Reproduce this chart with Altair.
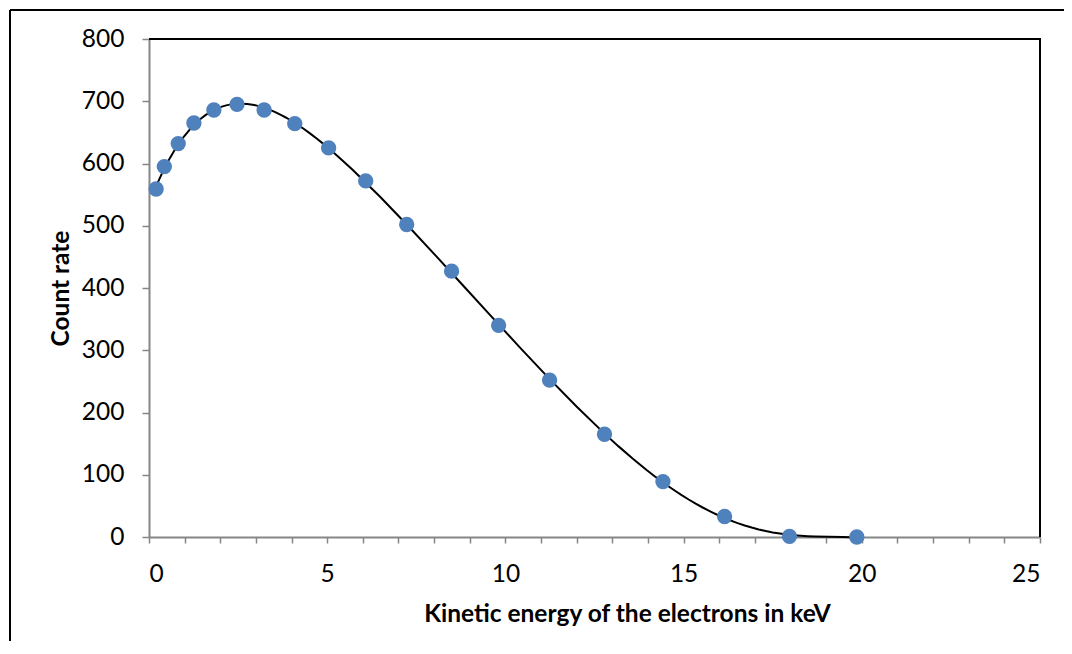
import altair as alt
import pandas as pd

energy = [0.20, 0.43, 0.82, 1.26, 1.82, 2.47, 3.23, 4.09, 5.04, 6.08, 7.23,
          8.49, 9.81, 11.24, 12.78, 14.42, 16.15, 17.97, 19.86]
count = [559, 595, 632, 665, 686, 695, 686, 664, 625, 572, 502,
         427, 340, 252, 165, 89, 33, 1, 0]
x_ticks = list(range(0, 26))
y_ticks = list(range(0, 801, 100))

df = pd.DataFrame({"energy": energy, "count": count})

FONT = "Lato"
FS = 24.5
W, H = 891, 498

xscale = alt.Scale(domain=[0, 25], nice=False, zero=False)
yscale = alt.Scale(domain=[0, 800], nice=False)

xaxis = alt.Axis(
    values=x_ticks,
    labelExpr="datum.value % 5 == 0 ? datum.label : ''",
    labelOverlap=False,
    grid=False, tickSize=6, tickColor="#868686", tickWidth=1.5,
    domainColor="#868686", domainWidth=2,
    labelFont=FONT, labelFontSize=FS, labelColor="black", labelPadding=19,
    title="Kinetic energy of the electrons in keV",
    titleFont=FONT, titleFontSize=FS, titleFontWeight="bold", titleColor="black",
    titleX=478, titleY=84, titleBaseline="alphabetic", titleAlign="center",
)
yaxis = alt.Axis(
    values=y_ticks,
    labelOverlap=False,
    grid=False, tickSize=7, tickColor="#868686", tickWidth=1.5,
    domainColor="#868686", domainWidth=2,
    labelFont=FONT, labelFontSize=FS, labelColor="black", labelPadding=18,
    title="Count rate",
    titleFont=FONT, titleFontSize=FS, titleFontWeight="bold", titleColor="black",
    titleAngle=270, titleX=-88, titleY=H / 2, titleBaseline="middle", titleAlign="center",
)

base = alt.Chart(df)

enc = dict(
    x=alt.X("energy:Q", scale=xscale, axis=xaxis),
    y=alt.Y("count:Q", scale=yscale, axis=yaxis),
)

fit = base.transform_regression(
    "energy", "count", method="poly", order=6
).mark_line(color="black", strokeWidth=2).encode(**enc)

points = base.mark_circle(size=235, color="#4F81BD", opacity=1).encode(**enc)

# plot-area frame (top and right sides) and the outer chart border
top_rule = base.mark_rule(color="black", strokeWidth=2).encode(
    x=alt.value(0), x2=alt.value(W + 1), y=alt.value(0)
)
right_rule = base.mark_rule(color="black", strokeWidth=2).encode(
    x=alt.value(W), y=alt.value(0), y2=alt.value(H)
)
outer_top = base.mark_rule(color="black", strokeWidth=2).encode(
    x=alt.value(-139), x2=alt.value(W + 40), y=alt.value(-29)
)
outer_left = base.mark_rule(color="black", strokeWidth=2).encode(
    x=alt.value(-139), y=alt.value(-29), y2=alt.value(H + 140)
)

chart = alt.layer(outer_top, outer_left, top_rule, right_rule, fit, points).properties(
    width=W, height=H,
    autosize=alt.AutoSizeParams(type="none"),
    padding={"left": 141, "top": 31, "right": 24, "bottom": 104},
).configure_view(stroke=None).configure(background="white")

chart.save("out.html", embed_options={"renderer": "svg", "actions": False})
